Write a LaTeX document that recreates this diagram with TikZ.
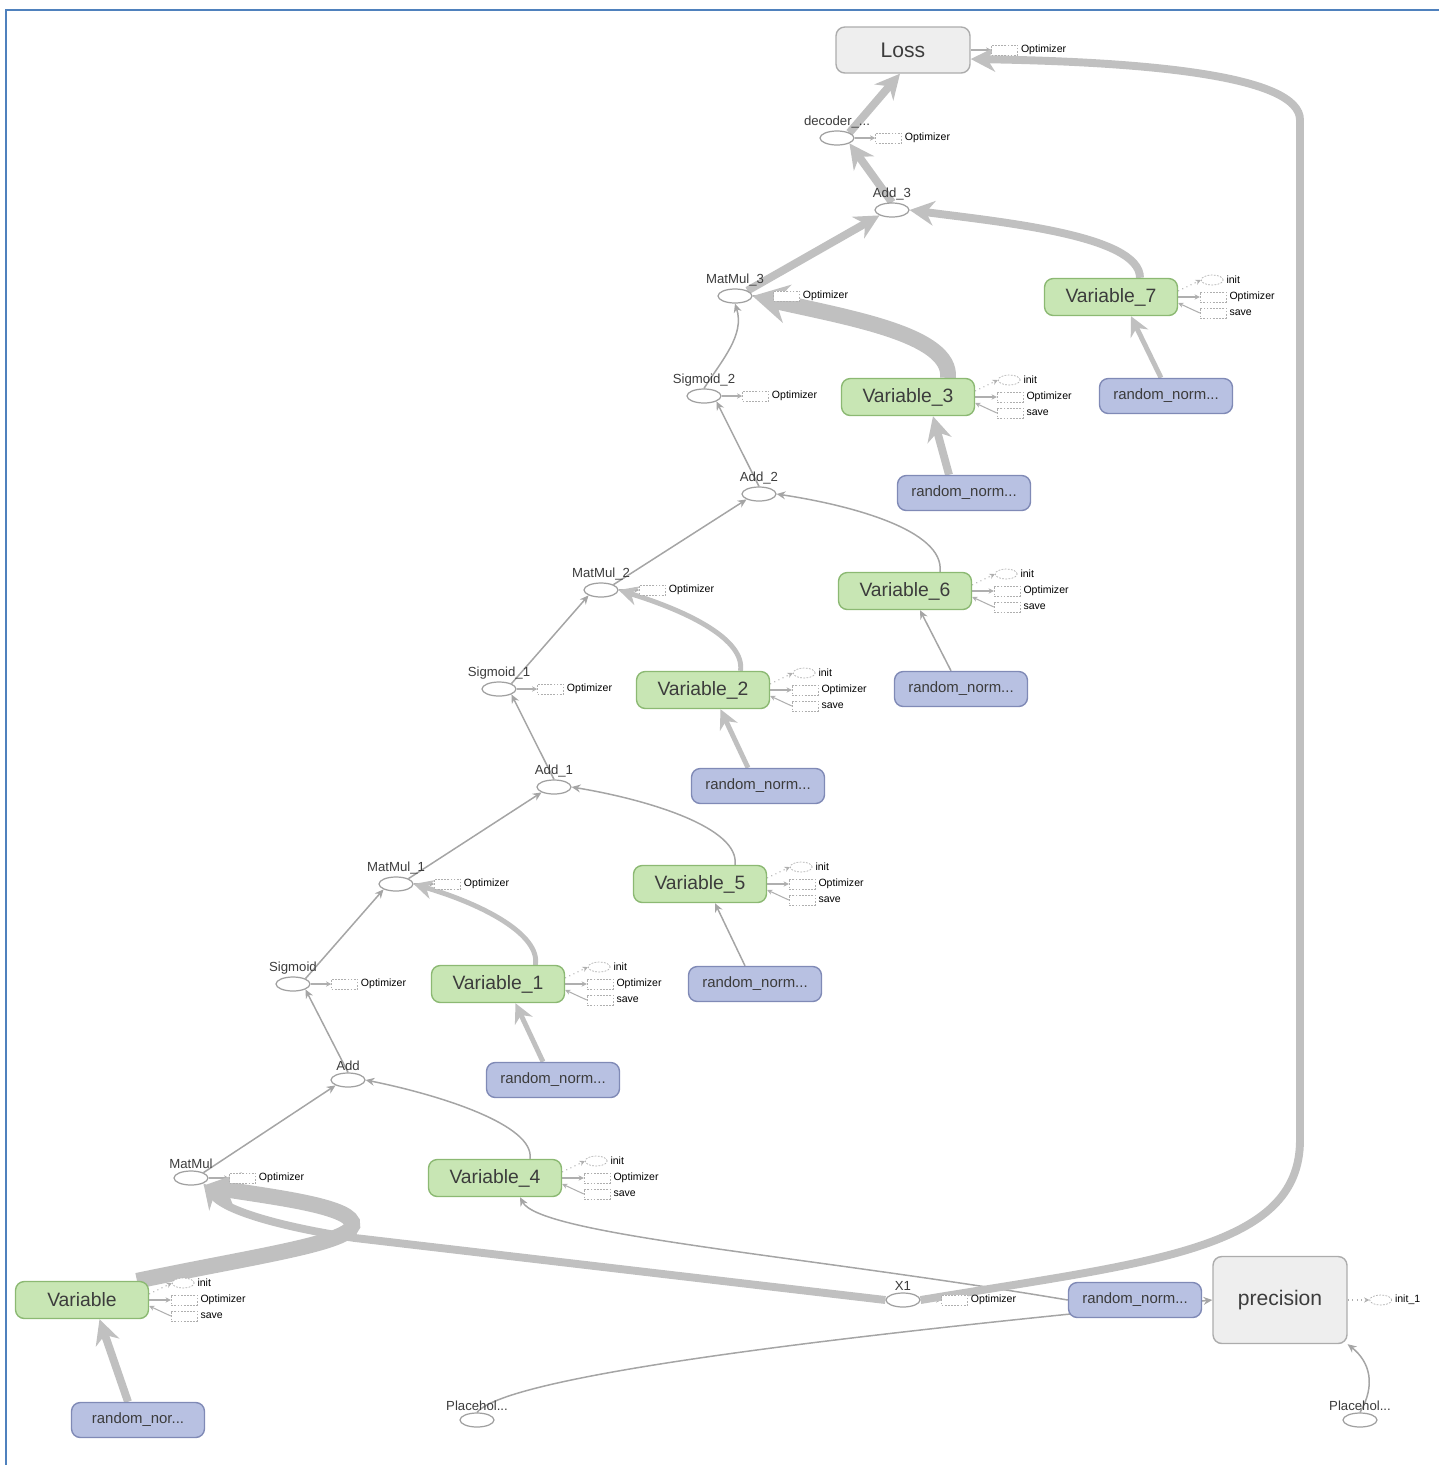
\documentclass[tikz,border=0pt]{standalone}
\usepackage{fontspec}
\setmainfont{Liberation Sans}
\usetikzlibrary{arrows.meta, positioning, shapes.geometric, backgrounds}

\definecolor{varfill}{RGB}{200,230,180}
\definecolor{varline}{RGB}{140,185,115}
\definecolor{rndfill}{RGB}{184,193,226}
\definecolor{rndline}{RGB}{128,138,182}
\definecolor{metafill}{RGB}{238,238,238}
\definecolor{metaline}{RGB}{172,172,172}
\definecolor{opline}{RGB}{160,160,160}
\definecolor{edgegray}{RGB}{192,192,192}
\definecolor{edgedark}{RGB}{165,165,165}
\definecolor{sidegray}{RGB}{175,175,175}
\definecolor{boxtext}{RGB}{60,60,60}
\definecolor{frameblue}{RGB}{79,129,189}

\begin{document}
\begin{tikzpicture}[x=0.02cm, y=-0.02cm,
  varbox/.style={draw=varline, fill=varfill, rounded corners=5pt, line width=0.8pt,
                 minimum width=2.66cm, minimum height=0.74cm,
                 font=\fontsize{11}{12}\selectfont, text=boxtext},
  rndbox/.style={draw=rndline, fill=rndfill, rounded corners=5pt, line width=0.8pt,
                 minimum width=2.66cm, minimum height=0.7cm,
                 font=\fontsize{8.5}{10}\selectfont, text=boxtext},
  metabox/.style={draw=metaline, fill=metafill, rounded corners=5pt, line width=0.8pt,
                  minimum width=2.68cm, font=\fontsize{12}{14}\selectfont, text=boxtext},
  oplabel/.style={font=\fontsize{7.5}{8}\selectfont, text=boxtext, inner sep=1pt},
  op/.style={ellipse, draw=opline, fill=white, line width=0.7pt, minimum width=0.68cm,
             minimum height=0.28cm, inner sep=0pt, label={[oplabel]above:#1}},
  sidetext/.style={font=\fontsize{6}{7}\selectfont, inner sep=1.5pt},
  optbox/.style={draw=sidegray, dash pattern=on 1pt off 0.8pt, fill=white,
                 minimum width=0.52cm, minimum height=0.2cm, inner sep=0pt,
                 label={[sidetext]right:#1}},
  initnode/.style={ellipse, draw=sidegray, dash pattern=on 1pt off 0.8pt, fill=white,
                   minimum width=0.44cm, minimum height=0.2cm, inner sep=0pt,
                   label={[sidetext]right:#1}},
  thinedge/.style={draw=edgedark, line width=0.85pt, -{Stealth[length=5pt,width=4.5pt]}},
  midedge/.style={draw=edgegray, line width=2.8pt, -{Stealth[length=11pt,width=11pt]}},
  fatedge/.style={draw=edgegray, line width=4.5pt, -{Stealth[length=14pt,width=14pt]}},
  hugeedge/.style={draw=edgegray, line width=9pt, -{Stealth[length=20pt,width=22pt]}},
  sidearr/.style={draw=sidegray, line width=0.6pt, -{Stealth[length=3pt,width=3pt]}}
]
  \useasboundingbox (0,0) rectangle (1439,1465);
  \draw[frameblue, line width=1.2pt] (6,1465) -- (6,10) -- (1439,10);

  % top of the graph
  \node[metabox, minimum height=0.92cm] (loss) at (903,50) {Loss};
  \node[op=decoder\_...] (dec)  at (837,138) {};
  \node[op=Add\_3]       (add3) at (892,210) {};
  \node[op=MatMul\_3]    (mm3)  at (735,296) {};
  \node[varbox] (v7)  at (1111,297) {Variable\_7};
  \node[rndbox] (rn7) at (1166,396) {random\_norm...};
  \node[op=Sigmoid\_2]   (sig2) at (704,396) {};
  \node[varbox] (v3)  at (908,397) {Variable\_3};
  \node[rndbox] (rn3) at (964,493) {random\_norm...};
  \node[op=Add\_2]       (add2) at (759,494) {};
  \node[op=MatMul\_2]    (mm2)  at (601,590) {};
  \node[varbox] (v6)  at (905,591) {Variable\_6};
  \node[rndbox] (rn6) at (961,689) {random\_norm...};
  \node[op=Sigmoid\_1]   (sig1) at (499,689) {};
  \node[varbox] (v2)  at (703,690) {Variable\_2};
  \node[rndbox] (rn2) at (758,786) {random\_norm...};
  \node[op=Add\_1]       (add1) at (554,787) {};
  \node[op=MatMul\_1]    (mm1)  at (396,884) {};
  \node[varbox] (v5)  at (700,884) {Variable\_5};
  \node[rndbox] (rn5) at (755,984) {random\_norm...};
  \node[op=Sigmoid]      (sig)  at (293,984) {};
  \node[varbox] (v1)  at (498,984) {Variable\_1};
  \node[rndbox] (rn1) at (553,1080) {random\_norm...};
  \node[op=Add]          (add)  at (348,1080) {};
  \node[op=MatMul]       (mm)   at (191,1178) {};
  \node[varbox] (v4)  at (495,1178) {Variable\_4};

  % bottom row
  \node[varbox] (v)   at (82,1300) {Variable};
  \node[rndbox] (rnv) at (138,1420) {random\_nor...};
  \node[op=X1]          (x1)   at (903,1300) {};
  \node[rndbox] (rn4) at (1135,1300) {random\_norm...};
  \node[metabox, minimum height=1.74cm] (prec) at (1280,1300) {precision};
  \node[initnode=init\_1] (init1) at ([xshift=0.66cm]prec.east) {};
  \node[op=Placehol...] (plh1) at (477,1420) {};
  \node[op=Placehol...] (plh2) at (1360,1420) {};

  % init / Optimizer / save next to the variables
  \foreach \vn in {v, v1, v2, v3, v4, v5, v6, v7} {
    \node[initnode=init]    (\vn-init) at ([xshift=0.68cm, yshift=0.34cm]\vn.east) {};
    \node[optbox=Optimizer] (\vn-opt)  at ([xshift=0.7cm]\vn.east) {};
    \node[optbox=save]      (\vn-save) at ([xshift=0.7cm, yshift=-0.32cm]\vn.east) {};
  }
  \foreach \on in {loss, dec, mm3, sig2, mm2, sig1, mm1, sig, mm, x1}
    \node[optbox=Optimizer] (\on-opt) at ([xshift=0.68cm]\on.east) {};

  \begin{scope}[on background layer]
    \foreach \vn in {v, v1, v2, v3, v4, v5, v6, v7} {
      \draw[sidearr, dotted] ([yshift=0.12cm]\vn.east) -- (\vn-init.west);
      \draw[sidearr] (\vn.east) -- (\vn-opt.west);
      \draw[sidearr] (\vn-save.west) -- ([yshift=-0.12cm]\vn.east);
    }
    \foreach \on in {loss, dec, mm3, sig2, mm2, sig1, mm1, sig, mm, x1}
      \draw[sidearr] (\on.east) -- (\on-opt.west);
    \draw[sidearr, dotted] (prec.east) -- (init1.west);

    % decoder part
    \draw[fatedge] (dec.north east) -- ([xshift=-0.06cm]loss.south);
    \draw[fatedge] (add3.north) -- (dec.south east);
    \draw[fatedge] (mm3.north east) -- (add3.south west);
    \draw[fatedge] ([xshift=0.58cm]v7.north) .. controls (1140,235) and (1000,222) .. (add3.east);
    \draw[midedge] ([xshift=-0.1cm]rn7.north) -- ([xshift=0.4cm]v7.south);
    \draw[hugeedge] ([xshift=0.8cm]v3.north) .. controls (952,335) and (850,318) .. (mm3.east);
    \draw[fatedge] ([xshift=-0.3cm]rn3.north) -- ([xshift=0.5cm]v3.south);
    \draw[thinedge] (sig2.north) .. controls (722,360) and (745,335) .. (mm3.south);
    \draw[thinedge] (add2.north) -- (sig2.south east);
    \draw[thinedge] (mm2.north east) -- (add2.south west);
    \draw[thinedge] ([xshift=0.7cm]v6.north) .. controls (945,530) and (850,505) .. (add2.east);
    \draw[thinedge] ([xshift=-0.2cm]rn6.north) -- ([xshift=0.3cm]v6.south);
    \draw[midedge] ([xshift=0.75cm]v2.north) .. controls (745,640) and (690,612) .. (mm2.east);
    \draw[midedge] ([xshift=-0.2cm]rn2.north) -- ([xshift=0.35cm]v2.south);
    \draw[thinedge] (sig1.north east) -- (mm2.south west);
    \draw[thinedge] (add1.north) -- (sig1.south east);
    \draw[thinedge] (mm1.north east) -- (add1.south west);
    \draw[thinedge] ([xshift=0.7cm]v5.north) .. controls (740,828) and (650,800) .. (add1.east);
    \draw[thinedge] ([xshift=-0.2cm]rn5.north) -- ([xshift=0.3cm]v5.south);
    \draw[midedge] ([xshift=0.75cm]v1.north) .. controls (540,935) and (485,905) .. (mm1.east);
    \draw[midedge] ([xshift=-0.2cm]rn1.north) -- ([xshift=0.35cm]v1.south);
    \draw[thinedge] (sig.north east) -- (mm1.south west);
    \draw[thinedge] (add.north) -- (sig.south east);
    \draw[thinedge] (mm.north east) -- (add.south west);
    \draw[thinedge] ([xshift=0.7cm]v4.north) .. controls (535,1125) and (440,1095) .. (add.east);
    \draw[thinedge] (rn4.west) .. controls (800,1255) and (540,1235) .. ([xshift=0.5cm]v4.south);

    % input side
    \draw[hugeedge] ([xshift=1.1cm]v.north) .. controls (260,1255) and (360,1242) .. (352,1222)
                    .. controls (345,1205) and (265,1196) .. ([xshift=0.25cm]mm.south);
    \draw[fatedge] (x1.west) -- (355,1238) .. controls (300,1230) and (228,1214) .. (mm.south east);
    \draw[fatedge] (x1.east) .. controls (1150,1262) and (1300,1250) .. (1300,1140) -- (1300,120)
                   .. controls (1300,76) and (1150,62) .. ([yshift=-0.18cm]loss.east);
    \draw[fatedge] ([xshift=-0.2cm]rnv.north) -- ([xshift=0.35cm]v.south);
    \draw[thinedge] (plh1.north) .. controls (510,1372) and (900,1330) .. (prec.west);
    \draw[thinedge] (plh2.north) .. controls (1376,1385) and (1370,1362) .. (prec.south east);
  \end{scope}
\end{tikzpicture}
\end{document}
